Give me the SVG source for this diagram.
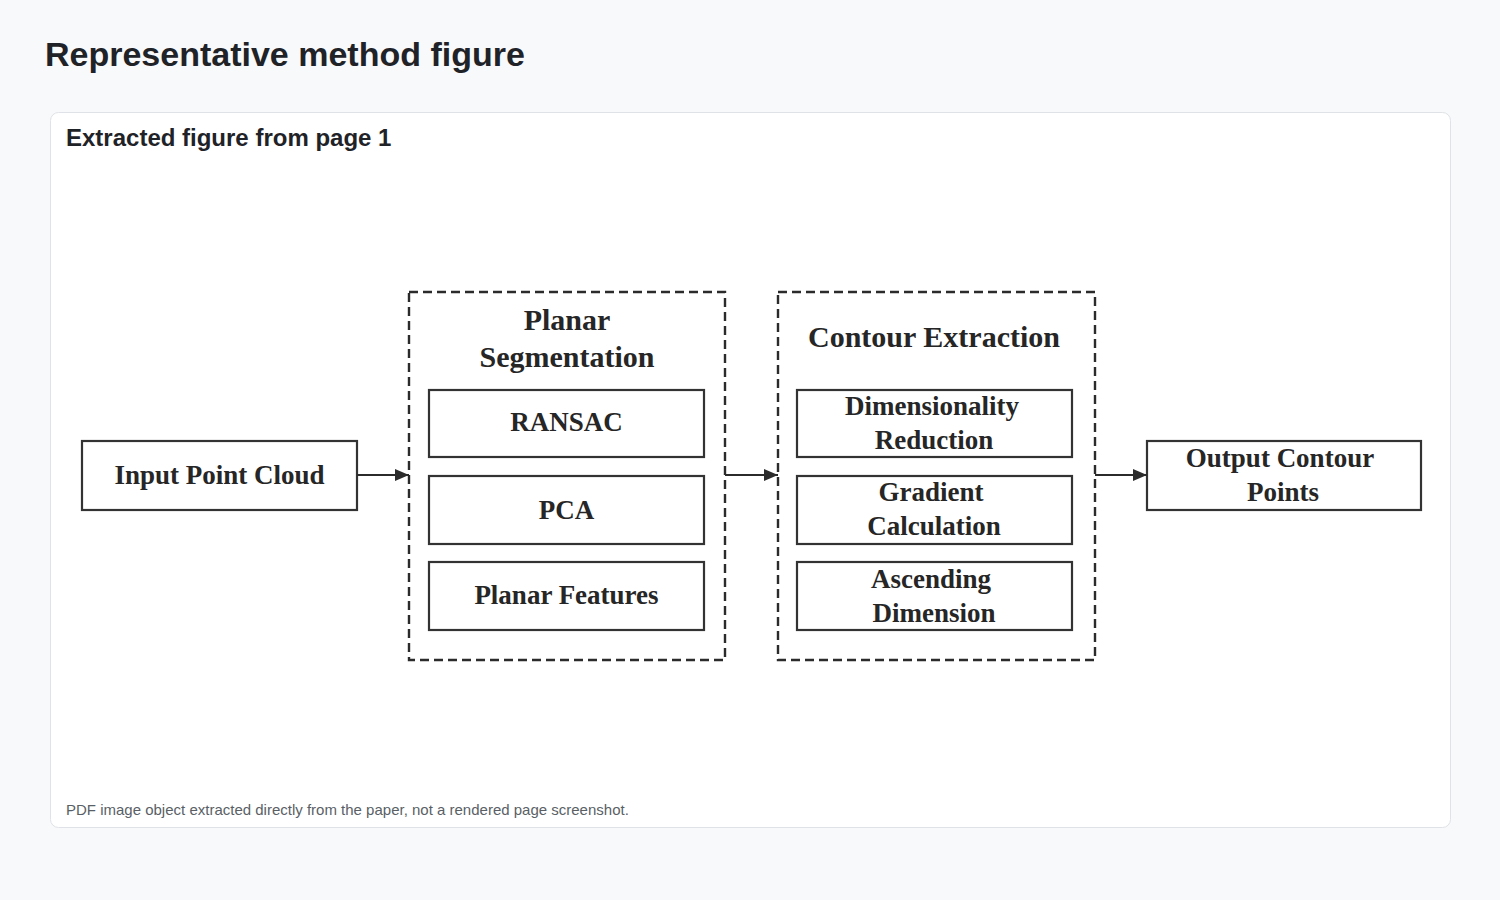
<svg xmlns="http://www.w3.org/2000/svg" width="1500" height="900" viewBox="0 0 1500 900">
  <defs>
    <marker id="arr" markerWidth="14" markerHeight="12" refX="14" refY="6" orient="auto" markerUnits="userSpaceOnUse">
      <path d="M0,0 L14,6 L0,12 Z" fill="#2b2b2b"/>
    </marker>
  </defs>
  <style>
    .sans { font-family: "Liberation Sans", Arial, sans-serif; }
    .h1 { font-size: 34px; font-weight: bold; fill: #1f2328; }
    .h2 { font-size: 24px; font-weight: bold; fill: #1f2328; }
    .foot { font-size: 15px; fill: #5a5f66; }
    .box { fill: #ffffff; stroke: #333333; stroke-width: 2.2; }
    .grp { fill: none; stroke: #2b2b2b; stroke-width: 2.4; stroke-dasharray: 9 5; }
    .lbl { font-family: "Liberation Serif", "Times New Roman", serif; font-weight: bold; font-size: 27px; fill: #262626; text-anchor: middle; }
    .head { font-size: 30px; }
    .conn { stroke: #2b2b2b; stroke-width: 2.2; fill: none; }
  </style>
  <rect x="0" y="0" width="1500" height="900" fill="#f8f9fb"/>
  <text class="sans h1" x="45" y="66">Representative method figure</text>
  <rect x="50.5" y="112.5" width="1400" height="715" rx="8" fill="#ffffff" stroke="#dfe2e6"/>
  <text class="sans h2" x="66" y="146">Extracted figure from page 1</text>
  <text class="sans foot" x="66" y="815">PDF image object extracted directly from the paper, not a rendered page screenshot.</text>

  <g id="input">
    <rect class="box" x="82" y="441" width="275" height="69"/>
    <text class="lbl" x="219.5" y="484">Input Point Cloud</text>
  </g>

  <g id="planar-segmentation">
    <rect class="grp" x="409" y="292" width="316" height="368"/>
    <text class="lbl head" x="567" y="330">Planar</text>
    <text class="lbl head" x="567" y="367">Segmentation</text>
  </g>
  <g id="ransac">
    <rect class="box" x="429" y="390" width="275" height="67"/>
    <text class="lbl" x="566.5" y="431">RANSAC</text>
  </g>
  <g id="pca">
    <rect class="box" x="429" y="476" width="275" height="68"/>
    <text class="lbl" x="566.5" y="519">PCA</text>
  </g>
  <g id="planar-features">
    <rect class="box" x="429" y="562" width="275" height="68"/>
    <text class="lbl" x="566.5" y="604">Planar Features</text>
  </g>

  <g id="contour-extraction">
    <rect class="grp" x="778" y="292" width="317" height="368"/>
    <text class="lbl head" x="934" y="347">Contour Extraction</text>
  </g>
  <g id="dim-reduction">
    <rect class="box" x="797" y="390" width="275" height="67"/>
    <text class="lbl" x="932" y="415">Dimensionality</text>
    <text class="lbl" x="934" y="449">Reduction</text>
  </g>
  <g id="gradient">
    <rect class="box" x="797" y="476" width="275" height="68"/>
    <text class="lbl" x="931" y="501">Gradient</text>
    <text class="lbl" x="934" y="535">Calculation</text>
  </g>
  <g id="ascending">
    <rect class="box" x="797" y="562" width="275" height="68"/>
    <text class="lbl" x="931" y="588">Ascending</text>
    <text class="lbl" x="934" y="622">Dimension</text>
  </g>

  <g id="output">
    <rect class="box" x="1147" y="441" width="274" height="69"/>
    <text class="lbl" x="1280" y="467">Output Contour</text>
    <text class="lbl" x="1283" y="501">Points</text>
  </g>

  <g id="connectors">
    <line class="conn" x1="357" y1="475" x2="409" y2="475" marker-end="url(#arr)"/>
    <line class="conn" x1="725" y1="475" x2="778" y2="475" marker-end="url(#arr)"/>
    <line class="conn" x1="1095" y1="475" x2="1147" y2="475" marker-end="url(#arr)"/>
  </g>
</svg>
